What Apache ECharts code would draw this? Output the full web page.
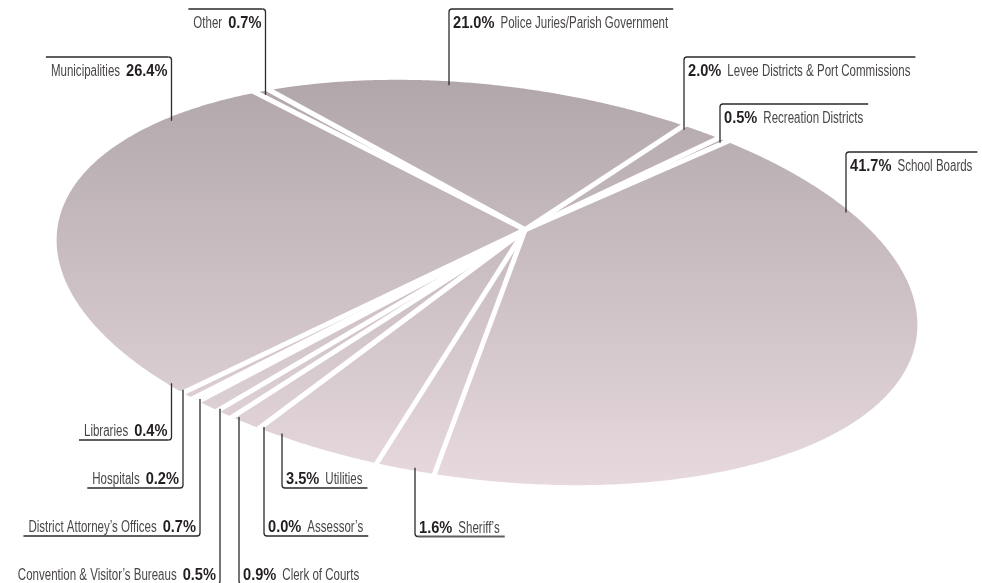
<!DOCTYPE html>
<html>
<head>
<meta charset="utf-8">
<script src="https://cdn.jsdelivr.net/npm/echarts@6/dist/echarts.min.js"></script>
<style>
  html, body { margin: 0; padding: 0; background: #fff; }
  #chart { width: 982px; height: 583px; }
</style>
</head>
<body>
<div id="chart"></div>
<script>
  // slices, clockwise from the top
  var categories = [
    'Police Juries/Parish Government',
    'Levee Districts & Port Commissions',
    'Recreation Districts',
    'School Boards',
    'Sheriff\u2019s',
    'Utilities',
    'Assessor\u2019s',
    'Clerk of Courts',
    'Convention & Visitor\u2019s Bureaus',
    'District Attorney\u2019s Offices',
    'Hospitals',
    'Libraries',
    'Municipalities',
    'Other'
  ];
  var values = [21.0, 2.0, 0.5, 41.7, 1.6, 3.5, 0.0, 0.9, 0.5, 0.7, 0.2, 0.4, 26.4, 0.7];

  // label layout (leader line x, text line y, which edge, text side)
  var labelLineX = [449, 684, 720, 846, 415, 282, 264, 239, 220, 200, 183, 171.5, 171.5, 265.5];
  var labelLineY = [9, 57, 104, 152, 536.5, 488, 536, 584, 584, 536, 488, 440, 57, 9];
  var labelEdge = ['top', 'top', 'top', 'top', 'bottom', 'bottom', 'bottom', 'bottom', 'bottom', 'bottom', 'bottom', 'bottom', 'top', 'top'];
  var labelSide = ['right', 'right', 'right', 'right', 'right', 'right', 'right', 'right', 'left', 'left', 'left', 'left', 'left', 'left'];

  /* ---------- tilted pie geometry ---------- */
  var cx = 487, cy = 282.5;          // ellipse centre
  var ra = 433, rb = 197;            // semi axes
  var tilt = 7.1 * Math.PI / 180;    // ellipse rotation
  var s = 0.299;                     // perspective strength
  var psi = -76 * Math.PI / 180;     // direction of the far side
  var qx = s * Math.cos(psi), qy = s * Math.sin(psi);
  var startAngle = -138 * Math.PI / 180;

  function toScreen(u, v) {
    var x = ra * u, y = rb * v;
    return [cx + x * Math.cos(tilt) - y * Math.sin(tilt), cy + x * Math.sin(tilt) + y * Math.cos(tilt)];
  }

  // circle angle -> point on the ellipse seen in perspective
  function project(t) {
    var c = Math.cos(t - psi), d = Math.sin(t - psi);
    var w = 1 + s * c;
    var x1 = (c + s) / w, y1 = d * Math.sqrt(1 - s * s) / w;
    var u = x1 * Math.cos(psi) - y1 * Math.sin(psi);
    var v = x1 * Math.sin(psi) + y1 * Math.cos(psi);
    return toScreen(u, v);
  }
  var apex = toScreen(qx, qy);

  // y of the ellipse outline at a given x
  function edgeY(x, edge) {
    var hits = [], prev = null, N = 2000;
    for (var k = 0; k <= N; k++) {
      var t = 2 * Math.PI * k / N;
      var p = toScreen(Math.cos(t), Math.sin(t));
      if (prev && (prev[0] - x) * (p[0] - x) <= 0 && prev[0] !== p[0]) {
        var f = (x - prev[0]) / (p[0] - prev[0]);
        hits.push(prev[1] + f * (p[1] - prev[1]));
      }
      prev = p;
    }
    return edge === 'top' ? Math.min.apply(null, hits) : Math.max.apply(null, hits);
  }

  var total = values.reduce(function (acc, v) { return acc + v; }, 0);
  var angles = [];
  var acc = 0;
  values.forEach(function (v) {
    var a0 = startAngle + 2 * Math.PI * acc / total;
    acc += v;
    angles.push([a0, startAngle + 2 * Math.PI * acc / total]);
  });

  // condensed look: regular font squeezed horizontally
  var fontFamily = '"Liberation Sans", Arial, sans-serif';
  var nameSize = 16, pctSize = 17;
  var nameFont = nameSize + 'px ' + fontFamily;
  var pctFont = 'bold ' + pctSize + 'px ' + fontFamily;
  var nameScale = 0.72, pctScale = 0.86;
  var measureCtx = document.createElement('canvas').getContext('2d');
  function textWidth(str, font) {
    measureCtx.font = font;
    return measureCtx.measureText(str).width;
  }

  var fillGrad = new echarts.graphic.LinearGradient(0, 80, 0, 486, [
    { offset: 0, color: '#b1a7ab' },
    { offset: 1, color: '#e7d9dd' }
  ], true);

  function renderItem(params, api) {
    var i = params.dataIndex;
    var a0 = angles[i][0], a1 = angles[i][1];
    var children = [];

    var n = Math.max(2, Math.ceil((a1 - a0) / (Math.PI / 360)));
    var pts = [apex];
    for (var k = 0; k <= n; k++) {
      pts.push(project(a0 + (a1 - a0) * k / n));
    }
    children.push({ type: 'polygon', z2: 1, shape: { points: pts }, style: { fill: fillGrad } });

    // white gap at the start edge of the slice
    var b = project(a0);
    var dx = b[0] - apex[0], dy = b[1] - apex[1], len = Math.sqrt(dx * dx + dy * dy);
    children.push({
      type: 'line', z2: 5,
      shape: { x1: apex[0], y1: apex[1], x2: b[0] + dx / len * 8, y2: b[1] + dy / len * 8 },
      style: { stroke: '#fff', lineWidth: 5 }
    });

    // label + leader line
    var lx = labelLineX[i], ly = labelLineY[i];
    var edge = labelEdge[i], side = labelSide[i];
    var ey = edgeY(lx, edge) + (edge === 'top' ? 4 : -3);
    var pct = api.value(0).toFixed(1) + '%';
    var name = categories[i];
    var wName = textWidth(name, nameFont) * nameScale;
    var wPct = textWidth(pct, pctFont) * pctScale;
    var gap = 6;
    var wText = wName + gap + wPct;
    var r = 3;
    var dirY = edge === 'top' ? -1 : 1;
    var dirX = side === 'right' ? 1 : -1;
    var cornerY = ly - dirY * r;
    children.push({
      type: 'path', z2: 6,
      shape: { pathData: 'M' + lx + ' ' + ey + ' L' + lx + ' ' + cornerY + ' Q' + lx + ' ' + ly + ' ' + (lx + dirX * r) + ' ' + ly },
      style: { stroke: '#2b2b2b', lineWidth: 1.3, fill: null }
    });
    var hEnd = lx + dirX * (4 + wText + 5);
    children.push({
      type: 'line', z2: 6,
      shape: { x1: lx + dirX * r, y1: ly, x2: hEnd, y2: ly },
      style: { stroke: '#5e5e5e', lineWidth: 2 }
    });

    var baseline = edge === 'top' ? ly + 20 : ly - 3;
    var pctX, nameX;
    if (side === 'right') {
      pctX = lx + 4;
      nameX = pctX + wPct + gap;
    } else {
      nameX = lx - 4 - wText;
      pctX = nameX + wName + gap;
    }
    children.push({
      type: 'text', z2: 7,
      x: pctX, y: baseline - 0.31 * pctSize, scaleX: pctScale,
      style: { text: pct, x: 0, y: 0, font: pctFont, fill: '#231f20', align: 'left', verticalAlign: 'middle' }
    });
    children.push({
      type: 'text', z2: 7,
      x: nameX, y: baseline - 0.31 * nameSize, scaleX: nameScale,
      style: { text: name, x: 0, y: 0, font: nameFont, fill: '#4a4647', align: 'left', verticalAlign: 'middle' }
    });

    return { type: 'group', children: children };
  }

  var myChart = echarts.init(document.getElementById('chart'), null, { renderer: 'canvas' });

  var option = {
    backgroundColor: '#ffffff',
    animation: false,
    series: [
      {
        type: 'custom',
        coordinateSystem: 'none',
        silent: true,
        renderItem: renderItem,
        data: values.map(function (v, i) {
          return { name: categories[i], value: [v] };
        })
      }
    ]
  };

  option && myChart.setOption(option);
</script>
</body>
</html>
